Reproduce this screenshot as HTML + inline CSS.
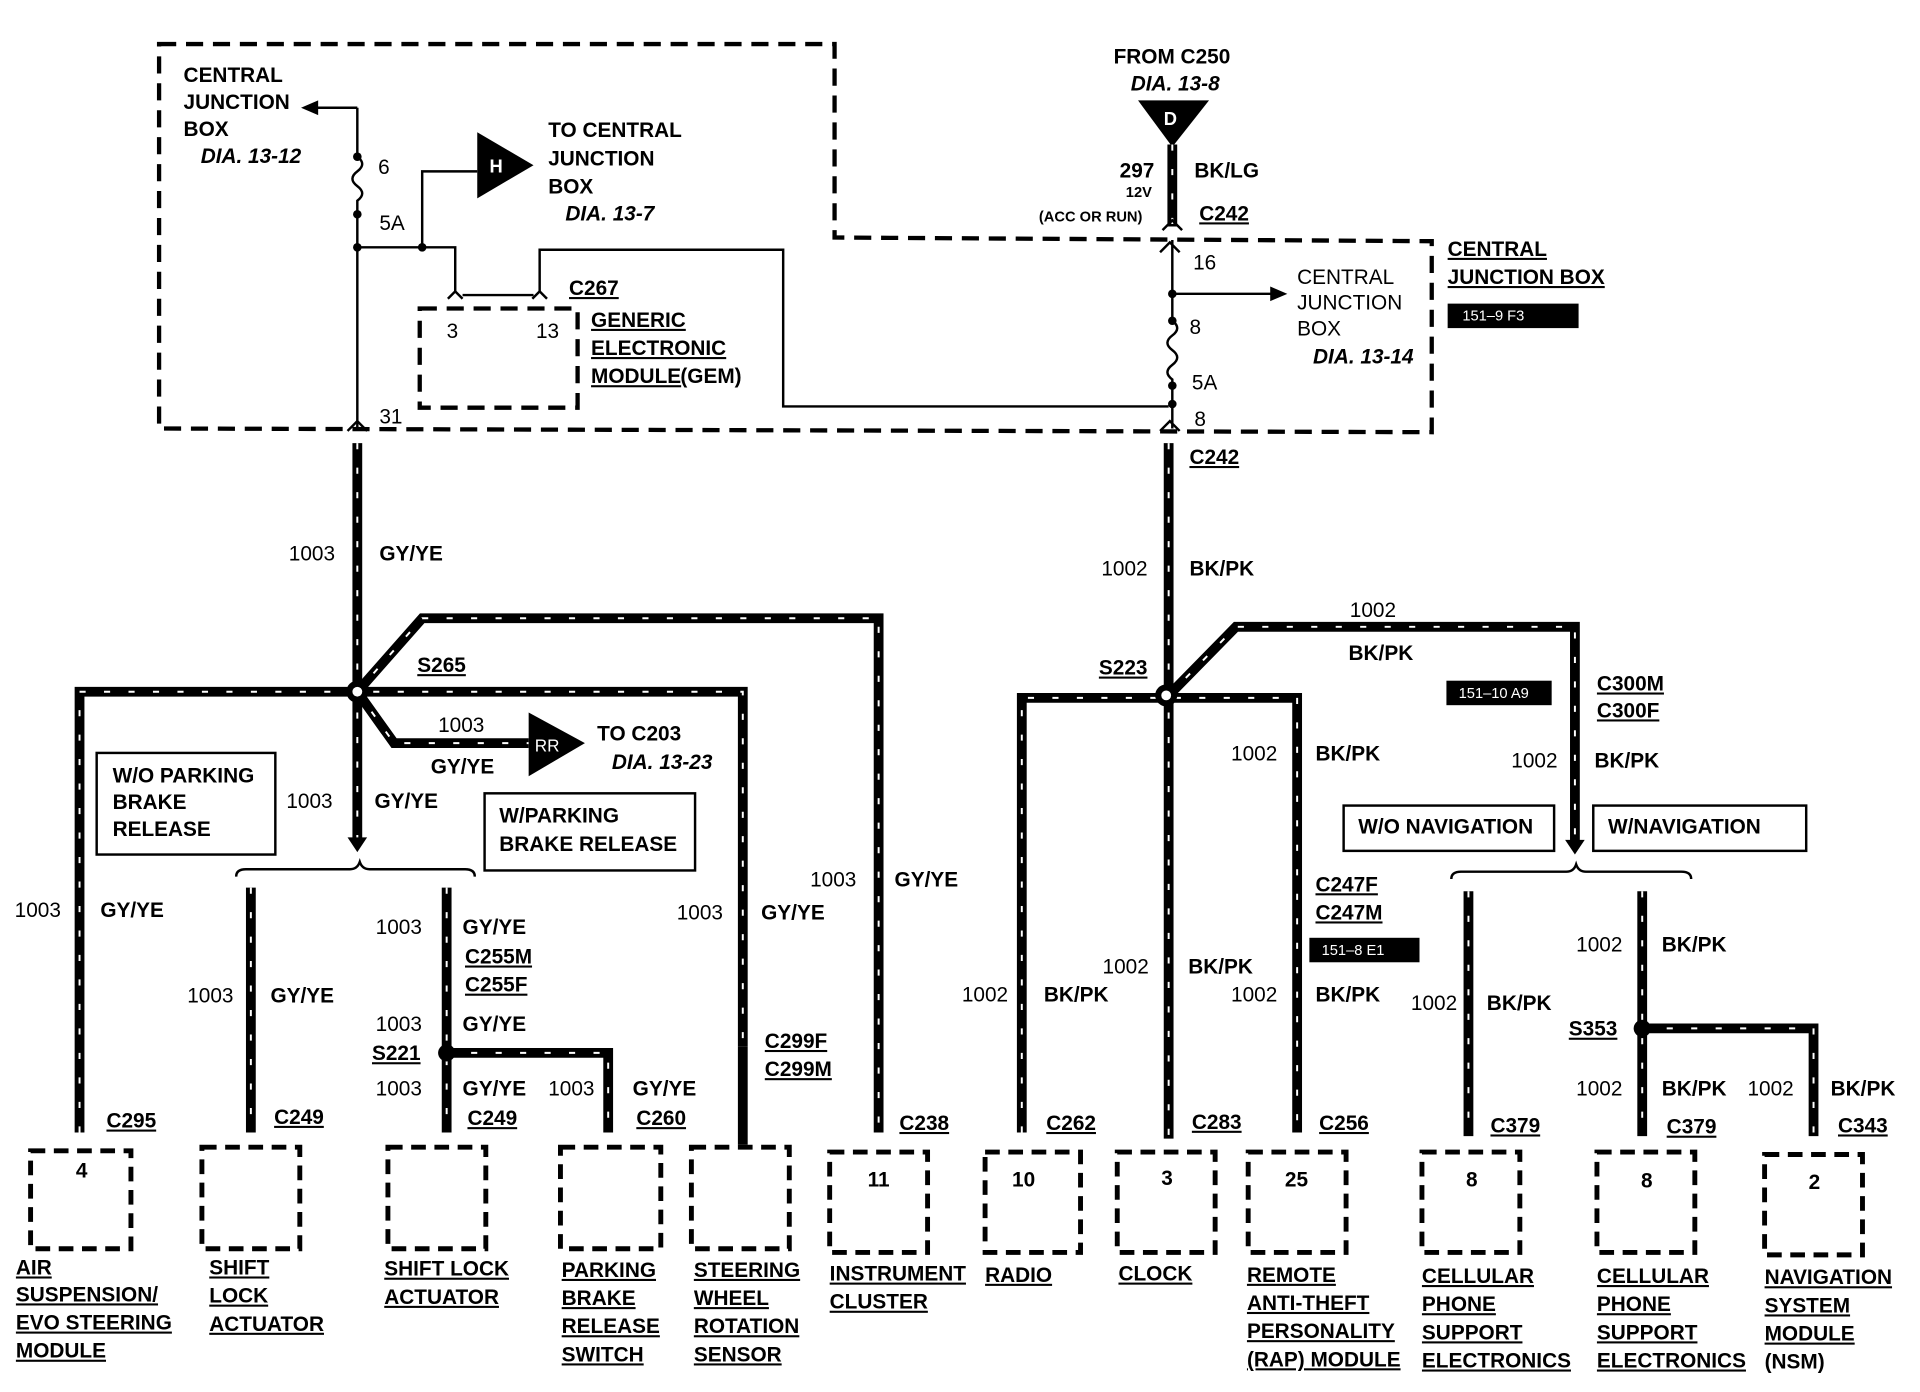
<!DOCTYPE html>
<html><head><meta charset="utf-8"><style>
html,body{margin:0;padding:0;background:#fff}
svg{display:block}
text{font-family:"Liberation Sans",Arial,sans-serif;font-weight:bold;font-size:17px;fill:#000}
.i{font-style:italic}
.u{text-decoration:underline}
.s{font-size:12px}
.wb{fill:none;stroke:#000;stroke-width:8;stroke-linejoin:miter}
.ww{fill:none;stroke:#fff;stroke-width:1.6;stroke-dasharray:5 15}
.th{fill:none;stroke:#000;stroke-width:2}
.db{fill:none;stroke:#000;stroke-width:3.5;stroke-dasharray:14 8}
.cb{fill:none;stroke:#000;stroke-width:4;stroke-dasharray:12 7}
.bx{fill:none;stroke:#000;stroke-width:2}
</style></head><body>
<svg width="1920" height="1392" viewBox="0 0 1569 1137" preserveAspectRatio="none">
<path class="db" d="M130,36 L682,36 L682,194 L1170,197 L1170,353 L130,350 Z"/>
<rect class="db" x="343" y="252" width="129" height="81"/>
<path class="th" d="M292,88 L292,128 M292,175 L292,350 M292,88 L258,88"/>
<path d="M246,88 L260,82 L260,94 Z"/>
<path class="th" d="M292,128 q8,6 0,12 q-8,6 0,12 q8,6 0,12 L292,175"/>
<circle cx="292" cy="128" r="3.5"/><circle cx="292" cy="175" r="3.5"/><circle cx="292" cy="202" r="3.5"/><circle cx="345" cy="202" r="3.5"/>
<path class="th" d="M292,202 L372,202 L372,238 M345,202 L345,140 L390,140"/>
<path d="M390,108 L436,135 L390,162 Z"/>
<text x="400" y="141" style="fill:#fff;font-size:15px">H</text>
<path class="th" d="M378,241 L436,241 M441,238 L441,204 L640,204 L640,332 L955,332"/>
<path class="th" d="M366,244 l6,-6 l6,6 M435,244 l6,-6 l6,6"/>
<path class="th" d="M284,352 l8,-8 l8,8 M948,352 l8,-8 l8,8 M948,206 l8,-8 l8,8"/>
<path d="M930,82 L988,82 L958,120 Z"/>
<text x="951" y="102" style="fill:#fff;font-size:15px">D</text>
<path class="wb" d="M958,118 L958,185"/><path class="ww" d="M958,118 L958,185"/>
<path class="th" d="M950,188 l8,-8 l8,8 M958,196 L958,262 M958,315 L958,350 M958,240 L1040,240"/>
<path d="M1052,240 L1038,234 L1038,246 Z"/>
<path class="th" d="M958,262 q8,6 0,12 q-8,6 0,12 q8,6 0,12 q-8,6 0,12 L958,315"/>
<circle cx="958" cy="240" r="3.5"/><circle cx="958" cy="262" r="3.5"/><circle cx="958" cy="315" r="3.5"/><circle cx="958" cy="330" r="3.5"/>
<g>
<path class="wb" d="M292,362 L292,688"/>
<path class="wb" d="M65,925 L65,565 L607,565 L607,855"/>
<path class="wb" d="M292,565 L345,505 L718,505 L718,925"/>
<path class="wb" d="M292,565 L322,607 L432,607"/>
<path class="wb" d="M205,725 L205,925 M365,725 L365,925 M365,860 L497,860 L497,925"/>
<path class="wb" d="M955,362 L955,930"/>
<path class="wb" d="M835,925 L835,570 L1060,570 L1060,925"/>
<path class="wb" d="M955,568 L1010,512 L1287,512 L1287,690"/>
<path class="wb" d="M1200,728 L1200,928 M1342,728 L1342,928 M1342,840 L1482,840 L1482,928"/>
</g>
<path class="wb" d="M607,855 L607,935"/>
<g>
<path class="ww" d="M292,362 L292,688"/>
<path class="ww" d="M65,925 L65,565 L607,565 L607,855"/>
<path class="ww" d="M292,565 L345,505 L718,505 L718,925"/>
<path class="ww" d="M292,565 L322,607 L432,607"/>
<path class="ww" d="M205,725 L205,925 M365,725 L365,925 M365,860 L497,860 L497,925"/>
<path class="ww" d="M955,362 L955,930"/>
<path class="ww" d="M835,925 L835,570 L1060,570 L1060,925"/>
<path class="ww" d="M955,568 L1010,512 L1287,512 L1287,690"/>
<path class="ww" d="M1200,728 L1200,928 M1342,728 L1342,928 M1342,840 L1482,840 L1482,928"/>
</g>
<circle cx="292" cy="565" r="9" fill="#000"/><circle cx="292" cy="565" r="4" fill="#fff"/>
<circle cx="953" cy="568" r="9" fill="#000"/><circle cx="953" cy="568" r="4" fill="#fff"/>
<circle cx="365" cy="860" r="7"/><circle cx="1342" cy="840" r="7"/>
<path d="M432,582 L478,607 L432,634 Z"/>
<text x="437" y="614" style="fill:#fff;font-size:14px;font-weight:normal">RR</text>
<path d="M284,684 L292,696 L300,684 Z"/><path d="M1279,686 L1287,698 L1295,686 Z"/>
<path class="th" d="M193,716 q0,-6 8,-6 L286,710 q6,0 8,-6 q2,6 8,6 L380,710 q8,0 8,6"/>
<path class="th" d="M1186,718 q0,-6 8,-6 L1280,712 q6,0 8,-6 q2,6 8,6 L1374,712 q8,0 8,6"/>
<rect class="cb" x="25" y="940" width="82" height="80"/>
<rect class="cb" x="165" y="937" width="80" height="83"/>
<rect class="cb" x="317" y="937" width="80" height="83"/>
<rect class="cb" x="458" y="937" width="82" height="83"/>
<rect class="cb" x="565" y="937" width="80" height="83"/>
<rect class="cb" x="678" y="941" width="80" height="82"/>
<rect class="cb" x="805" y="941" width="78" height="82"/>
<rect class="cb" x="913" y="941" width="80" height="82"/>
<rect class="cb" x="1020" y="941" width="80" height="82"/>
<rect class="cb" x="1162" y="941" width="80" height="82"/>
<rect class="cb" x="1305" y="941" width="80" height="82"/>
<rect class="cb" x="1442" y="943" width="80" height="82"/>
<g style="font-weight:normal;font-size:16px">
<text x="62" y="962">4</text><text x="709" y="969">11</text><text x="827" y="969">10</text><text x="949" y="968">3</text><text x="1050" y="969">25</text><text x="1198" y="969">8</text><text x="1341" y="970">8</text><text x="1478" y="971">2</text>
</g>
<rect class="bx" x="79" y="615" width="146" height="83"/><text x="92" y="639">W/O PARKING</text><text x="92" y="661">BRAKE</text><text x="92" y="683">RELEASE</text>
<rect class="bx" x="396" y="648" width="172" height="63"/><text x="408" y="672">W/PARKING</text><text x="408" y="695">BRAKE RELEASE</text>
<rect class="bx" x="1098" y="658" width="172" height="37"/><text x="1110" y="681">W/O NAVIGATION</text>
<rect class="bx" x="1302" y="658" width="174" height="37"/><text x="1314" y="681">W/NAVIGATION</text>
<rect x="1183" y="248" width="107" height="20"/><text x="1195" y="262" class="s" style="fill:#fff;font-weight:normal">151–9 F3</text>
<rect x="1182" y="556" width="86" height="20"/><text x="1192" y="570" class="s" style="fill:#fff;font-weight:normal">151–10 A9</text>
<rect x="1070" y="766" width="90" height="20"/><text x="1080" y="780" class="s" style="fill:#fff;font-weight:normal">151–8 E1</text>
<text x="150" y="67">CENTRAL</text><text x="150" y="89">JUNCTION</text><text x="150" y="111">BOX</text><text x="164" y="133" class="i">DIA. 13-12</text>
<text x="309" y="142" style="font-weight:normal">6</text><text x="310" y="188" style="font-weight:normal">5A</text><text x="310" y="346" style="font-weight:normal">31</text>
<text x="448" y="112">TO CENTRAL</text><text x="448" y="135">JUNCTION</text><text x="448" y="158">BOX</text><text x="462" y="180" class="i">DIA. 13-7</text>
<text x="465" y="241" class="u">C267</text><text x="365" y="276" style="font-weight:normal">3</text><text x="438" y="276" style="font-weight:normal">13</text>
<text x="483" y="267" class="u">GENERIC</text><text x="483" y="290" class="u">ELECTRONIC</text><text x="483" y="313" class="u">MODULE</text><text x="556" y="313">(GEM)</text>
<text x="910" y="52">FROM C250</text><text x="924" y="74" class="i">DIA. 13-8</text>
<text x="915" y="145">297</text><text x="976" y="145">BK/LG</text><text x="920" y="161" class="s">12V</text><text x="849" y="181" class="s">(ACC OR RUN)</text>
<text x="980" y="180" class="u">C242</text>
<text x="975" y="220" style="font-weight:normal">16</text><text x="972" y="273" style="font-weight:normal">8</text><text x="974" y="318" style="font-weight:normal">5A</text><text x="976" y="348" style="font-weight:normal">8</text>
<text x="1060" y="232" style="font-weight:normal">CENTRAL</text><text x="1060" y="253" style="font-weight:normal">JUNCTION</text><text x="1060" y="274" style="font-weight:normal">BOX</text><text x="1073" y="297" class="i">DIA. 13-14</text>
<text x="1183" y="209" class="u">CENTRAL</text><text x="1183" y="232" class="u">JUNCTION BOX</text>
<text x="972" y="379" class="u">C242</text>
<text x="236" y="458" style="font-weight:normal">1003</text><text x="310" y="458">GY/YE</text>
<text x="341" y="549" class="u">S265</text>
<text x="358" y="598" style="font-weight:normal">1003</text><text x="352" y="632">GY/YE</text>
<text x="488" y="605">TO C203</text><text x="500" y="628" class="i">DIA. 13-23</text>
<text x="234" y="660" style="font-weight:normal">1003</text><text x="306" y="660">GY/YE</text>
<text x="12" y="749" style="font-weight:normal">1003</text><text x="82" y="749">GY/YE</text>
<text x="153" y="819" style="font-weight:normal">1003</text><text x="221" y="819">GY/YE</text>
<text x="307" y="763" style="font-weight:normal">1003</text><text x="378" y="763">GY/YE</text>
<text x="380" y="787" class="u">C255M</text><text x="380" y="810" class="u">C255F</text>
<text x="307" y="842" style="font-weight:normal">1003</text><text x="378" y="842">GY/YE</text>
<text x="304" y="866" class="u">S221</text>
<text x="307" y="895" style="font-weight:normal">1003</text><text x="378" y="895">GY/YE</text><text x="448" y="895" style="font-weight:normal">1003</text><text x="517" y="895">GY/YE</text>
<text x="382" y="919" class="u">C249</text><text x="520" y="919" class="u">C260</text>
<text x="553" y="751" style="font-weight:normal">1003</text><text x="622" y="751">GY/YE</text>
<text x="662" y="724" style="font-weight:normal">1003</text><text x="731" y="724">GY/YE</text>
<text x="625" y="856" class="u">C299F</text><text x="625" y="879" class="u">C299M</text>
<text x="87" y="921" class="u">C295</text><text x="224" y="918" class="u">C249</text><text x="735" y="923" class="u">C238</text>
<text x="900" y="470" style="font-weight:normal">1002</text><text x="972" y="470">BK/PK</text>
<text x="898" y="551" class="u">S223</text>
<text x="1103" y="504" style="font-weight:normal">1002</text><text x="1102" y="539">BK/PK</text>
<text x="1305" y="564" class="u">C300M</text><text x="1305" y="586" class="u">C300F</text>
<text x="1006" y="621" style="font-weight:normal">1002</text><text x="1075" y="621">BK/PK</text>
<text x="1235" y="627" style="font-weight:normal">1002</text><text x="1303" y="627">BK/PK</text>
<text x="1075" y="728" class="u">C247F</text><text x="1075" y="751" class="u">C247M</text>
<text x="901" y="795" style="font-weight:normal">1002</text><text x="971" y="795">BK/PK</text>
<text x="786" y="818" style="font-weight:normal">1002</text><text x="853" y="818">BK/PK</text>
<text x="1006" y="818" style="font-weight:normal">1002</text><text x="1075" y="818">BK/PK</text>
<text x="1153" y="825" style="font-weight:normal">1002</text><text x="1215" y="825">BK/PK</text>
<text x="1288" y="777" style="font-weight:normal">1002</text><text x="1358" y="777">BK/PK</text>
<text x="1282" y="846" class="u">S353</text>
<text x="1288" y="895" style="font-weight:normal">1002</text><text x="1358" y="895">BK/PK</text><text x="1428" y="895" style="font-weight:normal">1002</text><text x="1496" y="895">BK/PK</text>
<text x="855" y="923" class="u">C262</text><text x="974" y="922" class="u">C283</text><text x="1078" y="923" class="u">C256</text>
<text x="1218" y="925" class="u">C379</text><text x="1362" y="926" class="u">C379</text><text x="1502" y="925" class="u">C343</text>
<text x="13" y="1041" class="u">AIR</text><text x="13" y="1063" class="u">SUSPENSION/</text><text x="13" y="1086" class="u">EVO STEERING</text><text x="13" y="1109" class="u">MODULE</text>
<text x="171" y="1041" class="u">SHIFT</text><text x="171" y="1064" class="u">LOCK</text><text x="171" y="1087" class="u">ACTUATOR</text>
<text x="314" y="1042" class="u">SHIFT LOCK</text><text x="314" y="1065" class="u">ACTUATOR</text>
<text x="459" y="1043" class="u">PARKING</text><text x="459" y="1066" class="u">BRAKE</text><text x="459" y="1089" class="u">RELEASE</text><text x="459" y="1112" class="u">SWITCH</text>
<text x="567" y="1043" class="u">STEERING</text><text x="567" y="1066" class="u">WHEEL</text><text x="567" y="1089" class="u">ROTATION</text><text x="567" y="1112" class="u">SENSOR</text>
<text x="678" y="1046" class="u">INSTRUMENT</text><text x="678" y="1069" class="u">CLUSTER</text>
<text x="805" y="1047" class="u">RADIO</text>
<text x="914" y="1046" class="u">CLOCK</text>
<text x="1019" y="1047" class="u">REMOTE</text><text x="1019" y="1070" class="u">ANTI-THEFT</text><text x="1019" y="1093" class="u">PERSONALITY</text><text x="1019" y="1116" class="u">(RAP) MODULE</text>
<text x="1162" y="1048" class="u">CELLULAR</text><text x="1162" y="1071" class="u">PHONE</text><text x="1162" y="1094" class="u">SUPPORT</text><text x="1162" y="1117" class="u">ELECTRONICS</text>
<text x="1305" y="1048" class="u">CELLULAR</text><text x="1305" y="1071" class="u">PHONE</text><text x="1305" y="1094" class="u">SUPPORT</text><text x="1305" y="1117" class="u">ELECTRONICS</text>
<text x="1442" y="1049" class="u">NAVIGATION</text><text x="1442" y="1072" class="u">SYSTEM</text><text x="1442" y="1095" class="u">MODULE</text><text x="1442" y="1118">(NSM)</text>
</svg>
</body></html>
